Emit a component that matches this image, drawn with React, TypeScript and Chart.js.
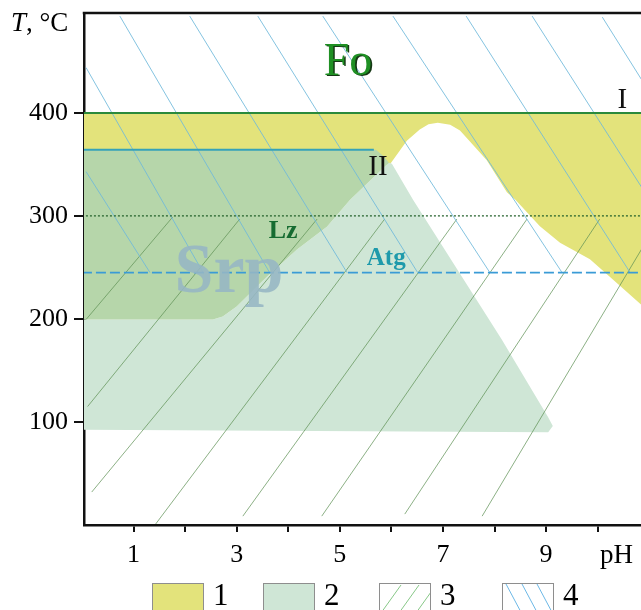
import { useEffect, useRef } from 'react';
import { Chart, registerables } from 'chart.js';

Chart.register(...registerables);

const SERIF = "'Liberation Serif', 'DejaVu Serif', serif";

// ---- axes ----
const xMin = 0.04;
const xMax = 10.84;
const yMin = 0;
const yMax = 497;
const xTickValues = [1, 2, 3, 4, 5, 6, 7, 8, 9, 10];
const xTickLabels = ['1', '', '3', '', '5', '', '7', '', '9', ''];
const yTickValues = [100, 200, 300, 400];
const yTickLabels = ['100', '200', '300', '400'];
const xAxisTitle = 'pH';
const yAxisTitleItalic = 'T';
const yAxisTitleRest = ', °C';

// ---- field 1 (yellow) ----
const yellowPH = [0, 10.84, 10.84, 10.3, 9.85, 9.27, 8.88, 8.4, 8.24, 7.85, 7.58, 7.33, 7.14, 6.9, 6.72, 6.55, 6.3, 5.97, 0];
const yellowT = [400, 400, 214, 238, 258, 274, 290, 316, 323, 354, 369, 383, 388.5, 390.5, 389, 384, 373, 350, 350];

// ---- field 2 (light green) ----
const lightPH = [0, 2.54, 2.73, 3.0, 3.59, 4.17, 4.75, 5.2, 5.95, 6.01, 6.42, 8.14, 9.04, 9.13, 9.04, 0];
const lightT = [199.5, 199.5, 202.4, 212.1, 241.2, 267.4, 289.6, 315.8, 351.6, 350.7, 315.8, 180.1, 104.6, 96, 90, 92.5];

// ---- overlap (dark green) ----
const darkPH = [0, 5.7, 5.85, 5.95, 5.2, 4.75, 4.17, 3.59, 3.0, 2.73, 2.54, 0];
const darkT = [364.2, 364.2, 358, 351.6, 315.8, 289.6, 267.4, 241.2, 212.1, 202.4, 199.5, 199.5];

// ---- boundary lines ----
const lineI_PH = [0, 10.84];
const lineI_T = [400, 400];
const lineII_PH = [0, 5.66];
const lineII_T = [364.2, 364.2];
const lzLinePH = [0, 10.84];
const lzLineT = [300, 300];
const atgLinePH = [0, 10.84];
const atgLineT = [245, 245];

// ---- hatching 4 (blue, "\") ----
const blueTopPH = [0.08, 0.08, 0.735, 2.09, 3.41, 4.67, 6.03, 7.45, 8.73, 10.09];
const blueTopT = [343, 444, 494, 494, 494, 494, 494, 494, 494, 493];
const blueBotPH = [1.32, 2.35, 3.64, 5.14, 6.51, 7.91, 9.31, 10.63, 11.91, 13.2];
const blueBotT = [245, 245, 245, 245, 245, 245, 245, 245, 245, 245];

// ---- hatching 3 (green, "/") ----
const greenBotPH = [0.08, 0.11, 0.19, 1.43, 3.12, 4.65, 6.26, 7.76];
const greenBotT = [199.5, 115, 32, 1, 8.6, 8.6, 10.6, 8.6];
const greenTopPH = [1.76, 3.06, 4.56, 5.87, 7.27, 8.63, 10.04, 11.2];
const greenTopT = [299, 297, 297, 297, 297, 297, 297, 297];

// ---- annotations ----
const annoText = ['Fo', 'Lz', 'Atg', 'Srp', 'I', 'II'];
const annoPH = [5.16, 3.9, 5.9, 2.85, 10.48, 5.74];
const annoT = [437, 279, 252.8, 225.7, 405, 340];
const annoStyle = [
  { font: `normal 46px ${SERIF}`, color: '#1f9024', shadow: 'rgba(8,45,8,0.95)' },
  { font: `bold 26px ${SERIF}`, color: '#166c31', shadow: '' },
  { font: `bold 25px ${SERIF}`, color: '#1e9aab', shadow: '' },
  { font: `bold 70px ${SERIF}`, color: 'rgba(150,182,196,0.88)', shadow: '' },
  { font: `normal 29px ${SERIF}`, color: '#111', shadow: '' },
  { font: `normal 29px ${SERIF}`, color: '#111', shadow: '' },
];

// ---- legend ----
const legendLabels = ['1', '2', '3', '4'];
const legendBoxLeft = [152, 263, 379, 502];

const COL_YELLOW = '#e3e37b';
const COL_LIGHT = '#cfe6d6';
const COL_DARK = '#b6d6aa';

const pts = (xs: number[], ys: number[]) => xs.map((x, i) => ({ x, y: ys[i] }));

function polygon(xs: number[], ys: number[], color: string, order: number) {
  return {
    data: pts(xs, ys),
    showLine: true,
    fill: 'shape',
    backgroundColor: color,
    borderColor: 'rgba(0,0,0,0)',
    borderWidth: 0,
    pointRadius: 0,
    order,
  };
}

function segment(xs: number[], ys: number[], color: string, width: number, dash: number[], order: number) {
  return {
    data: pts(xs, ys),
    showLine: true,
    fill: false,
    borderColor: color,
    borderWidth: width,
    borderDash: dash,
    pointRadius: 0,
    order,
  };
}

const overlay = {
  id: 'overlay',
  afterDatasetsDraw(chart: any) {
    const { ctx, scales } = chart;
    const xs = scales.x;
    const ys = scales.y;
    ctx.save();
    ctx.textAlign = 'center';
    ctx.textBaseline = 'alphabetic';
    annoText.forEach((t, i) => {
      const st = annoStyle[i];
      ctx.font = st.font;
      const px = xs.getPixelForValue(annoPH[i]);
      const py = ys.getPixelForValue(annoT[i]);
      if (st.shadow) {
        ctx.fillStyle = st.shadow;
        ctx.fillText(t, px + 1.6, py + 1.4);
      }
      ctx.fillStyle = st.color;
      ctx.fillText(t, px, py);
    });
    ctx.restore();
  },
  afterDraw(chart: any) {
    const { ctx, chartArea, width } = chart;
    ctx.save();
    // top frame line
    ctx.strokeStyle = '#111';
    ctx.lineWidth = 2.5;
    ctx.beginPath();
    ctx.moveTo(chartArea.left - 1.25, chartArea.top);
    ctx.lineTo(width, chartArea.top);
    ctx.stroke();

    // y axis title
    ctx.fillStyle = '#000';
    ctx.textBaseline = 'alphabetic';
    ctx.textAlign = 'left';
    ctx.font = `italic 27px ${SERIF}`;
    ctx.fillText(yAxisTitleItalic, 11, 31);
    const w = ctx.measureText(yAxisTitleItalic).width;
    ctx.font = `normal 27px ${SERIF}`;
    ctx.fillText(yAxisTitleRest, 11 + w, 31);

    // x axis title
    ctx.font = `normal 27px ${SERIF}`;
    ctx.fillText(xAxisTitle, 600, 563);

    // legend
    const top = 583;
    const bw = 51;
    const bh = 40;
    legendLabels.forEach((lab, i) => {
      const left = legendBoxLeft[i];
      ctx.save();
      ctx.fillStyle = i === 0 ? COL_YELLOW : i === 1 ? COL_LIGHT : '#fff';
      ctx.fillRect(left, top, bw, bh);
      if (i >= 2) {
        ctx.beginPath();
        ctx.rect(left, top, bw, bh);
        ctx.clip();
        ctx.lineWidth = 1;
        if (i === 2) {
          ctx.strokeStyle = '#88c888';
          [2, 20, 37].forEach((o) => {
            ctx.beginPath();
            ctx.moveTo(left + o, top + 30);
            ctx.lineTo(left + o + 20, top + 2);
            ctx.stroke();
          });
        } else {
          ctx.strokeStyle = '#6cb8e6';
          [4, 20, 35].forEach((o) => {
            ctx.beginPath();
            ctx.moveTo(left + o, top + 1);
            ctx.lineTo(left + o + 16, top + 31);
            ctx.stroke();
          });
        }
      }
      ctx.restore();
      ctx.strokeStyle = '#8e8e8e';
      ctx.lineWidth = 1;
      ctx.strokeRect(left + 0.5, top + 0.5, bw, bh);
      ctx.fillStyle = '#000';
      ctx.font = `normal 31px ${SERIF}`;
      ctx.textAlign = 'left';
      ctx.fillText(lab, left + 61, 605);
    });
    ctx.restore();
  },
};

export default function App() {
  const ref = useRef<HTMLCanvasElement | null>(null);

  useEffect(() => {
    if (!ref.current) return;
    const datasets: any[] = [];
    datasets.push(polygon(yellowPH, yellowT, COL_YELLOW, 30));
    datasets.push(polygon(lightPH, lightT, COL_LIGHT, 29));
    datasets.push(polygon(darkPH, darkT, COL_DARK, 28));
    blueTopPH.forEach((_, i) => {
      datasets.push(segment([blueTopPH[i], blueBotPH[i]], [blueTopT[i], blueBotT[i]], 'rgba(110,185,218,0.95)', 0.9, [], 10));
    });
    greenBotPH.forEach((_, i) => {
      datasets.push(segment([greenBotPH[i], greenTopPH[i]], [greenBotT[i], greenTopT[i]], 'rgba(95,145,85,0.8)', 0.9, [], 10));
    });
    datasets.push(segment(lzLinePH, lzLineT, '#24622c', 1.2, [2, 2], 4));
    datasets.push(segment(atgLinePH, atgLineT, '#3a9bd6', 1.6, [10, 4], 3));
    datasets.push(segment(lineII_PH, lineII_T, '#35a2b9', 2, [], 2));
    datasets.push(segment(lineI_PH, lineI_T, '#2a8a3c', 2, [], 1));

    const tickFont = { family: SERIF, size: 26 };

    const chart = new Chart(ref.current, {
      type: 'scatter',
      data: { datasets },
      options: {
        animation: false,
        responsive: false,
        maintainAspectRatio: false,
        events: [],
        layout: { padding: { top: 13, left: 0, right: 0, bottom: 0 } },
        plugins: {
          legend: { display: false },
          tooltip: { enabled: false },
          filler: { drawTime: 'beforeDatasetDraw', propagate: false },
        } as any,
        scales: {
          x: {
            type: 'linear',
            min: xMin,
            max: xMax,
            afterBuildTicks: (s: any) => {
              s.ticks = xTickValues.map((v) => ({ value: v }));
            },
            afterFit: (s: any) => {
              s.height = 85;
              s.paddingLeft = 0;
              s.paddingRight = 0;
            },
            ticks: {
              callback: (v: any) => {
                const i = xTickValues.indexOf(Number(v));
                return i >= 0 ? xTickLabels[i] : '';
              },
              font: tickFont,
              color: '#000',
              padding: 8,
              autoSkip: false,
              maxRotation: 0,
            },
            grid: { drawOnChartArea: false, drawTicks: true, tickLength: 7, color: '#111', lineWidth: 2 },
            border: { color: '#111', width: 2.5 },
          },
          y: {
            type: 'linear',
            min: yMin,
            max: yMax,
            afterBuildTicks: (s: any) => {
              s.ticks = yTickValues.map((v) => ({ value: v }));
            },
            afterFit: (s: any) => {
              s.width = 84;
              s.paddingTop = 0;
              s.paddingBottom = 0;
            },
            ticks: {
              callback: (v: any) => {
                const i = yTickValues.indexOf(Number(v));
                return i >= 0 ? yTickLabels[i] : '';
              },
              font: tickFont,
              color: '#000',
              padding: 6,
              autoSkip: false,
            },
            grid: { drawOnChartArea: false, drawTicks: true, tickLength: 10, color: '#111', lineWidth: 2 },
            border: { color: '#111', width: 2.5 },
          },
        },
      } as any,
      plugins: [overlay],
    });
    return () => chart.destroy();
  }, []);

  return (
    <div style={{ position: 'absolute', left: 0, top: 0, width: 641, height: 610, background: '#fff' }}>
      <canvas ref={ref} width={641} height={610} style={{ display: 'block' }} />
    </div>
  );
}
